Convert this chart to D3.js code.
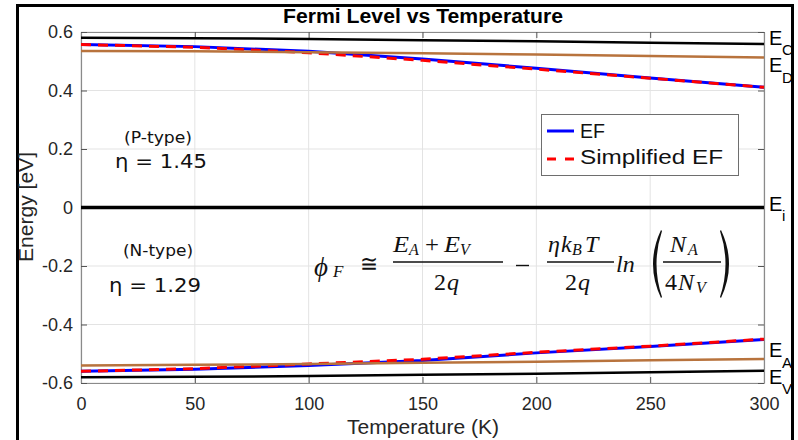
<!DOCTYPE html>
<html><head><meta charset="utf-8">
<script src="https://cdn.jsdelivr.net/npm/d3@7"></script>
<style>body{margin:0;background:#fff}svg{display:block}</style>
</head><body><svg id="c" width="798" height="440"></svg>
<script>
const temps = [0, 50, 100, 150, 200, 250, 300];
const EC = [0.580, 0.579, 0.576, 0.572, 0.568, 0.563, 0.559];
const ED = [0.535, 0.534, 0.531, 0.527, 0.523, 0.518, 0.513];
const EF_P = [0.557, 0.550, 0.534, 0.508, 0.476, 0.443, 0.411];
const SEF_P = [0.557, 0.548, 0.529, 0.503, 0.473, 0.442, 0.411];
const Ei = [0, 0, 0, 0, 0, 0, 0];
const EA = [-0.540, -0.538, -0.535, -0.531, -0.527, -0.522, -0.518];
const EV = [-0.580, -0.579, -0.576, -0.572, -0.568, -0.563, -0.558];
const EF_N = [-0.560, -0.553, -0.540, -0.523, -0.497, -0.475, -0.451];
const SEF_N = [-0.560, -0.551, -0.535, -0.519, -0.495, -0.474, -0.450];
const xTicks = [0, 50, 100, 150, 200, 250, 300];
const yTicks = [-0.6, -0.4, -0.2, 0, 0.2, 0.4, 0.6];
const yTickLabels = ["-0.6", "-0.4", "-0.2", "0", "0.2", "0.4", "0.6"];

const svg = d3.select("#c");
const L = 81, R = 764, T = 32, B = 383;
const x = d3.scaleLinear().domain([0, 300]).range([L, R]);
const y = d3.scaleLinear().domain([-0.6, 0.6]).range([B, T]);
const sans = "Arial, 'Liberation Sans', sans-serif";
const ann = "'DejaVu Sans', Verdana, sans-serif";
const axCol = "#262626";

// outer frame
svg.append("rect").attr("x", 17.5).attr("y", 5.5).attr("width", 775).attr("height", 445)
  .attr("fill", "#fff").attr("stroke", "#000").attr("stroke-width", 3);

// grid
const g = svg.append("g");
g.selectAll(".gx").data(xTicks).enter().append("line")
  .attr("x1", d => x(d)).attr("x2", d => x(d)).attr("y1", T).attr("y2", B)
  .attr("stroke", "#e3e3e3").attr("stroke-width", 1);
g.selectAll(".gy").data(yTicks).enter().append("line")
  .attr("y1", d => y(d)).attr("y2", d => y(d)).attr("x1", L).attr("x2", R)
  .attr("stroke", "#e3e3e3").attr("stroke-width", 1);

// axes (inward ticks, box)
const axB = svg.append("g").attr("transform", `translate(0,${B})`)
  .call(d3.axisBottom(x).tickValues(xTicks).tickSizeInner(-6).tickSizeOuter(0).tickPadding(14));
const axT = svg.append("g").attr("transform", `translate(0,${T})`)
  .call(d3.axisTop(x).tickValues(xTicks).tickSizeInner(-6).tickSizeOuter(0).tickFormat(""));
const axL = svg.append("g").attr("transform", `translate(${L},0)`)
  .call(d3.axisLeft(y).tickValues(yTicks).tickSizeInner(-6).tickSizeOuter(0).tickPadding(8)
    .tickFormat((d, i) => yTickLabels[i]));
const axR = svg.append("g").attr("transform", `translate(${R},0)`)
  .call(d3.axisRight(y).tickValues(yTicks).tickSizeInner(-6).tickSizeOuter(0).tickFormat(""));
[axB, axT, axL, axR].forEach(a => {
  a.selectAll("path").attr("stroke", "#8a8a8a").attr("stroke-width", 1.2);
  a.selectAll("line").attr("stroke", "#555");
  a.selectAll("text").attr("fill", axCol).style("font-family", sans).style("font-size", "18px");
});

// lines
const line = d3.line().x((d, i) => x(temps[i])).y(d => y(d));
svg.append("clipPath").attr("id", "pc").append("rect")
  .attr("x", L).attr("y", T - 2).attr("width", R - L).attr("height", B - T + 4);
const pg = svg.append("g").attr("clip-path", "url(#pc)");
const brown = "#b8733d";
function draw(arr, col, w, dash) {
  const p = pg.append("path").datum(arr).attr("d", line).attr("fill", "none")
    .attr("stroke", col).attr("stroke-width", w);
  if (dash) p.attr("stroke-dasharray", dash);
}
draw(EC, "#000", 2.5);
draw(EV, "#000", 2.5);
draw(Ei, "#000", 3.5);
draw(EF_P, "#0000ff", 3);
draw(EF_N, "#0000ff", 3);
draw(SEF_P, "#ff0000", 3, "10,7");
draw(SEF_N, "#ff0000", 3, "10,7");
draw(ED, brown, 2.5);
draw(EA, brown, 2.5);

// right-side band labels
function bandLabel(main, sub, yv, dy, sdy) {
  const yy = y(yv) + dy;
  svg.append("text").attr("x", 769).attr("y", yy)
    .style("font-family", sans).style("font-size", "20px").attr("fill", "#000").text(main);
  svg.append("text").attr("x", 782).attr("y", yy + sdy)
    .style("font-family", sans).style("font-size", "15px").attr("fill", "#000").text(sub);
}
bandLabel("E", "C", EC[6], 1, 10);
bandLabel("E", "D", ED[6], 14.5, 11);
bandLabel("E", "i", Ei[6], 3.5, 10);
bandLabel("E", "A", EA[6], -2, 11);
bandLabel("E", "V", EV[6], 13, 10);

// title
svg.append("text").attr("x", 283).attr("y", 23).attr("textLength", 280).attr("lengthAdjust", "spacingAndGlyphs")
  .style("font-family", sans).style("font-size", "20px").style("font-weight", "bold")
  .text("Fermi Level vs Temperature");

// axis labels
svg.append("text").attr("x", 347).attr("y", 434).attr("textLength", 152).attr("lengthAdjust", "spacingAndGlyphs")
  .style("font-family", sans).style("font-size", "20px").attr("fill", axCol).text("Temperature (K)");
svg.append("text").attr("transform", "translate(33,262) rotate(-90)").attr("textLength", 110).attr("lengthAdjust", "spacingAndGlyphs")
  .style("font-family", sans).style("font-size", "20px").attr("fill", axCol).text("Energy [eV]");

// annotations
function annText(xp, yp, len, size, s) {
  svg.append("text").attr("x", xp).attr("y", yp).attr("textLength", len).attr("lengthAdjust", "spacingAndGlyphs")
    .style("font-family", ann).style("font-size", size + "px").attr("fill", "#111").text(s);
}
annText(124, 143, 68, 16, "(P-type)");
annText(115, 168, 92, 19, "η = 1.45");
annText(123, 256, 70, 16, "(N-type)");
annText(109, 292, 92, 19, "η = 1.29");

// legend
const lg = svg.append("g");
lg.append("rect").attr("x", 541.5).attr("y", 114.5).attr("width", 197).attr("height", 61)
  .attr("fill", "#fff").attr("stroke", "#6e6e6e").attr("stroke-width", 1);
lg.append("line").attr("x1", 547).attr("x2", 574).attr("y1", 131).attr("y2", 131)
  .attr("stroke", "#0000ff").attr("stroke-width", 3);
lg.append("line").attr("x1", 547).attr("x2", 574).attr("y1", 159).attr("y2", 159)
  .attr("stroke", "#ff0000").attr("stroke-width", 3).attr("stroke-dasharray", "9,9");
lg.append("text").attr("x", 580).attr("y", 138).attr("textLength", 25).attr("lengthAdjust", "spacingAndGlyphs")
  .style("font-family", sans).style("font-size", "20px").attr("fill", "#111").text("EF");
lg.append("text").attr("x", 580).attr("y", 164).attr("textLength", 143).attr("lengthAdjust", "spacingAndGlyphs")
  .style("font-family", sans).style("font-size", "20px").attr("fill", "#111").text("Simplified EF");

// formula
const serif = "'Liberation Serif', 'Times New Roman', serif";
const fm = svg.append("g").style("font-family", serif).attr("fill", "#111");
function ft(xp, yp, s, size, italic, len) {
  const t = fm.append("text").attr("x", xp).attr("y", yp).style("font-size", size + "px")
    .style("font-style", italic ? "italic" : "normal").text(s);
  if (len) t.attr("textLength", len).attr("lengthAdjust", "spacingAndGlyphs");
  return t;
}
function bar(x1, x2, yy) {
  fm.append("line").attr("x1", x1).attr("x2", x2).attr("y1", yy).attr("y2", yy)
    .attr("stroke", "#111").attr("stroke-width", 1.4);
}
// phi_F ≅
ft(314, 276, "ϕ", 27, true);
ft(333, 277, "F", 17, true);
ft(360, 272, "≅", 24, false, 18);
// first fraction
ft(393, 252, "E", 24, true, 16);
ft(409, 255, "A", 16, true);
ft(425, 252, "+", 24, false, 14);
ft(444, 252, "E", 24, true, 16);
ft(460, 255, "V", 16, true);
bar(393, 503, 262);
ft(434, 290, "2", 24, false);
ft(447, 290, "q", 24, true);
// minus
bar(516, 529, 265.5);
// second fraction
ft(548, 252, "η", 24, true);
ft(561, 252, "k", 24, true);
ft(572, 255, "B", 16, true);
ft(585, 252, "T", 24, true);
bar(547, 614, 262);
ft(565, 290, "2", 24, false);
ft(578, 290, "q", 24, true);
ft(616, 272, "ln", 24, true);
// big parens
fm.append("path").attr("d", "M661,230 Q645,264 661,298 L662,297 Q651,264 662,231 Z").attr("fill", "#111");
fm.append("path").attr("d", "M721,230 Q737,264 721,298 L720,297 Q731,264 720,231 Z").attr("fill", "#111");
// third fraction
ft(670, 252, "N", 24, true);
ft(688, 255, "A", 16, true);
bar(663, 721, 262);
ft(665, 290, "4", 24, false);
ft(678, 290, "N", 24, true);
ft(696, 293, "V", 16, true);
</script></body></html>
